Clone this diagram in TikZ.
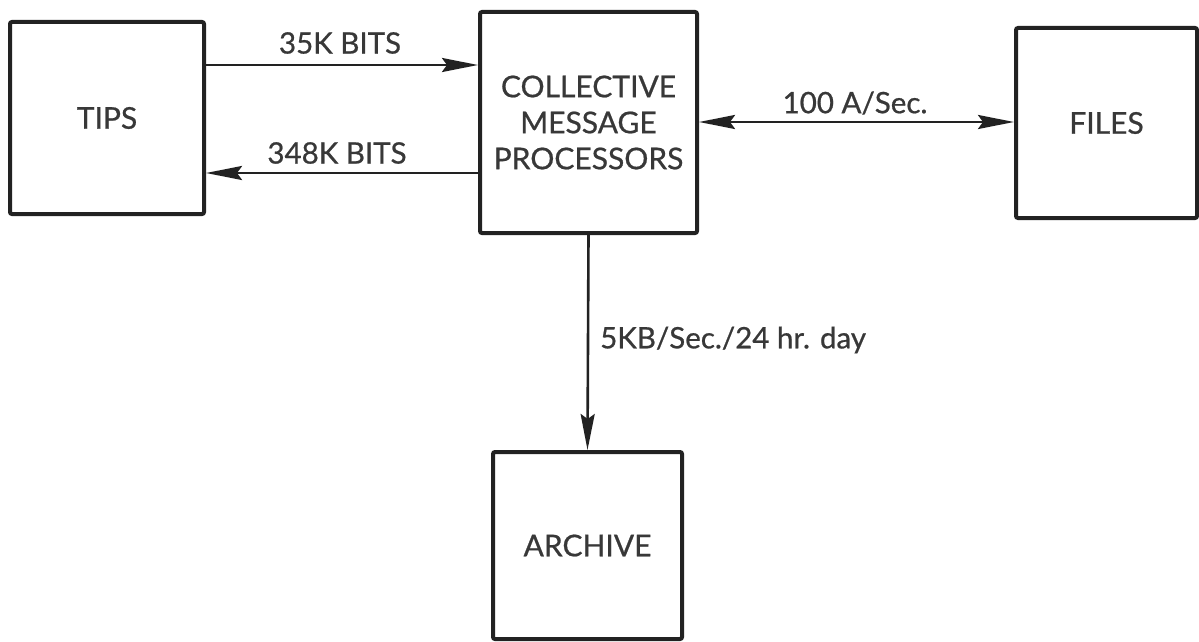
\documentclass[tikz,border=0pt]{standalone}
\usepackage{fontspec}
\setmainfont{Lato}[FakeBold=0.7]
\usetikzlibrary{arrows.meta}
\definecolor{ink}{HTML}{222222}
\begin{document}
\begin{tikzpicture}[x=1pt,y=-1pt,
  blk/.style={draw=ink,line width=4pt,rounded corners=2pt,fill=white,
    minimum width=#1,align=center,font=\fontsize{30}{36}\selectfont,text=ink!90},
  lbl/.style={font=\fontsize{29.5}{32}\selectfont,text=ink!90,inner sep=0pt},
  arr/.style={draw=ink,line width=2.6pt,-{Stealth[length=36pt,width=14pt,inset=5pt]}},
  darr/.style={draw=ink,line width=2.6pt,{Stealth[length=36pt,width=14pt,inset=5pt]}-{Stealth[length=36pt,width=14pt,inset=5pt]}}]
\clip (0,0) rectangle (1199,642);
\fill[white] (0,0) rectangle (1199,642);
\node[blk=194pt,minimum height=192pt] (tips) at (107,118) {TIPS};
\node[blk=217pt,minimum height=221pt] (cmp) at (588.5,122.5) {COLLECTIVE\\MESSAGE\\PROCESSORS};
\node[blk=181pt,minimum height=190pt] (files) at (1106.5,123) {FILES};
\node[blk=189pt,minimum height=187pt] (arch) at (587.5,545.5) {ARCHIVE};
\draw[arr] (tips.east |- 0,65) -- (cmp.west |- 0,65);
\draw[arr] (cmp.west |- 0,173) -- (tips.east |- 0,173);
\draw[darr] (cmp.east |- 0,122) -- (files.west |- 0,122);
\draw[arr] (cmp.south) -- (arch.north);
\node[lbl] (l1) at (340,43) {35K BITS};
\node[lbl] (l2) at (337,153) {348K BITS};
\node[lbl] (l3) at (855,103) {100 A/Sec.};
\node[lbl,anchor=west] (l4) at (600,340) {5KB/Sec./24 hr. day};
\end{tikzpicture}
\end{document}
